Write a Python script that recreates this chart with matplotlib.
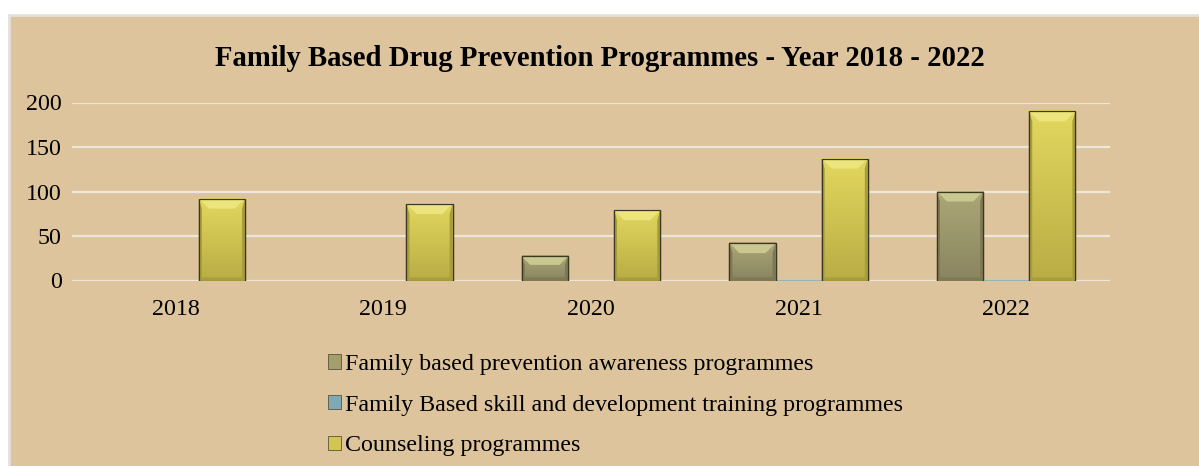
import numpy as np
import matplotlib
matplotlib.use('agg')
import matplotlib.pyplot as plt
from matplotlib.patches import Rectangle, Polygon
from matplotlib.colors import LinearSegmentedColormap

years = ["2018", "2019", "2020", "2021", "2022"]
series_names = ["Family based prevention awareness programmes",
                "Family Based skill and development training programmes",
                "Counseling programmes"]
awareness = [0, 0, 27, 42, 100]
skill = [0, 0, 0, 1, 1]
counseling = [92, 86, 79, 137, 190]
yticks = [0, 50, 100, 150, 200]

title = "Family Based Drug Prevention Programmes - Year 2018 - 2022"

bg = "#DDC49D"
# (legend colour, top bevel, body top, body bottom, side shade)
styles = [("#A39E6C", "#CBC790", "#ABA776", "#8A8560", "#7E7955"),
          ("#7FAAB4", "#A8CCD4", "#8DB6BF", "#6D98A2", "#5F8690"),
          ("#D3C551", "#ECE57E", "#E2D75E", "#B9AD45", "#A89D3C")]

plt.rcParams['font.family'] = ['Liberation Serif', 'DejaVu Serif']

W, H = 1199, 466
fig = plt.figure(figsize=(W / 100, H / 100), dpi=100)
fig.patch.set_facecolor("white")

# chart area box
fig.patches.append(Rectangle((9 / W, -0.01), 1.0, (H - 15) / H + 0.01,
                             transform=fig.transFigure, facecolor=bg,
                             edgecolor="#E4E0DA", linewidth=2, zorder=-5))

ax = fig.add_axes([72 / W, 1 - 280.5 / H, (1110 - 72) / W, (280.5 - 102.5) / H])
ax.set_facecolor("none")
ax.set_zorder(2)
ax.set_xlim(-0.5, len(years) - 0.5)
ax.set_ylim(0, 200)

for s in ax.spines.values():
    s.set_visible(False)

ax.set_yticks(yticks)
ax.yaxis.grid(True, color="#ECE6DC", linewidth=1.6)
ax.set_axisbelow(True)
ax.tick_params(axis='y', length=0, pad=7.5, labelsize=17.3)
ax.tick_params(axis='x', length=0, pad=13, labelsize=17.3)
x = np.arange(len(years))
ax.set_xticks(x)
ax.set_xticklabels(years)

bw = 1 / 4.5
all_vals = [awareness, skill, counseling]
inv = ax.transData.inverted()
grad = np.linspace(0, 1, 64).reshape(-1, 1)
handles = []
for k, (vals, st) in enumerate(zip(all_vals, styles)):
    bars = ax.bar(x + (k - 1) * bw, vals, width=bw, color=st[0],
                  edgecolor="#3A3820", linewidth=0.9, zorder=3,
                  label=series_names[k])
    handles.append(bars)
    cmap = LinearSegmentedColormap.from_list("g%d" % k, [st[3], st[2]])
    for b in bars:
        h = b.get_height()
        if h <= 0:
            b.set_linewidth(0)
            continue
        (px0, py0) = ax.transData.transform((b.get_x(), 0))
        (px1, py1) = ax.transData.transform((b.get_x() + b.get_width(), h))
        hp = py1 - py0
        if hp < 3:
            b.set_edgecolor(st[2])
            continue
        # body gradient
        ax.imshow(grad, extent=[b.get_x(), b.get_x() + b.get_width(), 0, h],
                  origin='lower', aspect='auto', cmap=cmap, zorder=3.2,
                  interpolation='bilinear')
        t = min(10, hp * 0.35)
        s = 3
        top = [(px0, py1), (px1, py1), (px1 - t, py1 - t), (px0 + t, py1 - t)]
        left = [(px0, py0), (px0 + s, py0 + s), (px0 + s, py1 - t), (px0, py1)]
        right = [(px1, py0), (px1 - s, py0 + s), (px1 - s, py1 - t), (px1, py1)]
        bot = [(px0, py0), (px1, py0), (px1 - s, py0 + s), (px0 + s, py0 + s)]
        for pts, c in [(left, st[4]), (right, st[4]), (bot, st[4]), (top, st[1])]:
            ax.add_patch(Polygon(inv.transform(pts), closed=True, facecolor=c,
                                 edgecolor="none", zorder=3.5))
        ax.add_patch(Rectangle((b.get_x(), 0), b.get_width(), h, facecolor="none",
                               edgecolor="#3A3820", linewidth=0.9, zorder=4))

ax.set_xlim(-0.5, len(years) - 0.5)
ax.set_ylim(0, 200)

fig.text(0.5, 1 - 58 / H, title, ha='center', va='center',
         fontsize=20.7, fontweight='bold')

leg = fig.legend(handles=handles, loc='upper left',
                 bbox_to_anchor=(316 / W, 1 - 342 / H), ncol=1, frameon=False,
                 fontsize=17.3, handlelength=0.55, handleheight=0.55,
                 handletextpad=0.15, labelspacing=0.82, borderpad=0)
for p in leg.get_patches():
    p.set_edgecolor("#555540")
    p.set_linewidth(0.6)

fig.savefig("out.png", dpi=100, facecolor=fig.get_facecolor())
